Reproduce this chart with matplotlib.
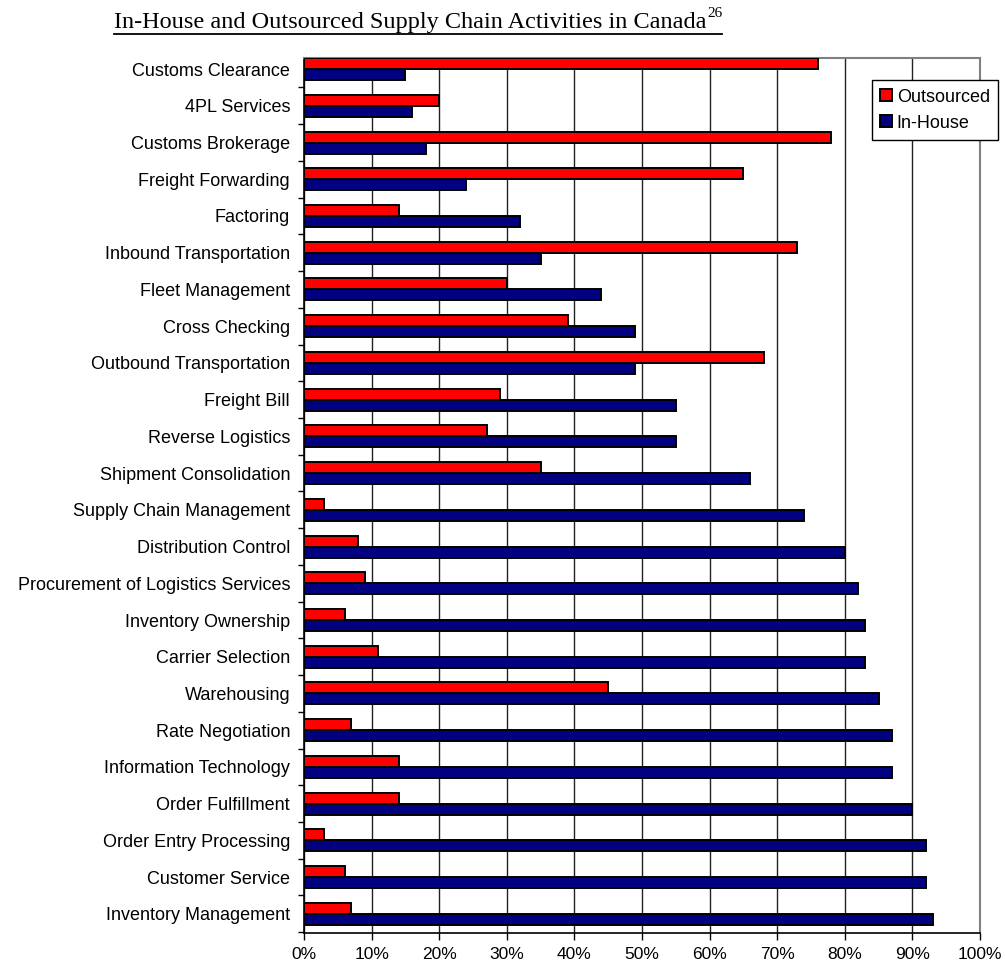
import numpy as np
import matplotlib.pyplot as plt
from matplotlib.ticker import MultipleLocator, PercentFormatter

plt.rcParams["font.family"] = ["Liberation Sans", "DejaVu Sans"]

activities = [
    "Customs Clearance", "4PL Services", "Customs Brokerage", "Freight Forwarding",
    "Factoring", "Inbound Transportation", "Fleet Management", "Cross Checking",
    "Outbound Transportation", "Freight Bill", "Reverse Logistics",
    "Shipment Consolidation", "Supply Chain Management", "Distribution Control",
    "Procurement of Logistics Services", "Inventory Ownership", "Carrier Selection",
    "Warehousing", "Rate Negotiation", "Information Technology", "Order Fulfillment",
    "Order Entry Processing", "Customer Service", "Inventory Management",
]
outsourced = [76, 20, 78, 65, 14, 73, 30, 39, 68, 29, 27, 35,
              3, 8, 9, 6, 11, 45, 7, 14, 14, 3, 6, 7]
in_house = [15, 16, 18, 24, 32, 35, 44, 49, 49, 55, 55, 66,
            74, 80, 82, 83, 83, 85, 87, 87, 90, 92, 92, 93]

fig = plt.figure(figsize=(10.05, 9.69), dpi=100)
ax = fig.add_axes([0.3025, 0.0372, 0.6726, 0.9029])

y = np.arange(len(activities))
h = 0.3
ax.barh(y - h / 2, outsourced, height=h, color="#ff0000", edgecolor="black",
        linewidth=1.4, label="Outsourced", zorder=3)
ax.barh(y + h / 2, in_house, height=h, color="#000080", edgecolor="black",
        linewidth=1.4, label="In-House", zorder=3)

ax.set_xlim(0, 100)
ax.set_ylim(len(activities) - 1 + 0.52, -0.3)
ax.xaxis.set_major_locator(MultipleLocator(10))
ax.xaxis.set_major_formatter(PercentFormatter(decimals=0))
ax.set_yticks(y)
ax.set_yticklabels(activities, fontsize=13)
ax.set_yticks(np.arange(len(activities)) + 0.5, minor=True)
ax.tick_params(axis="y", which="major", length=0, pad=10)
ax.tick_params(axis="y", which="minor", length=4, width=1, direction="out")
ax.tick_params(axis="x", length=5, width=1, direction="out", labelsize=12.5, pad=5)

ax.grid(axis="x", color="#222222", linewidth=1, zorder=0)
ax.spines["top"].set_color("#808080")
ax.spines["right"].set_color("#808080")
ax.spines["top"].set_linewidth(1.5)
ax.spines["right"].set_linewidth(1.5)
ax.spines["left"].set_linewidth(1.2)
ax.spines["bottom"].set_linewidth(1.2)

leg = ax.legend(loc="upper right", bbox_to_anchor=(0.993, 0.917),
                bbox_transform=fig.transFigure, fontsize=13, frameon=True,
                fancybox=False, edgecolor="black", framealpha=1,
                handlelength=0.65, handleheight=0.65, handletextpad=0.25,
                borderpad=0.45, labelspacing=0.5, borderaxespad=0)
leg.get_frame().set_linewidth(1)

# underlined title with superscript
title = fig.text(0.113, 0.977, "In-House and Outsourced Supply Chain Activities in Canada",
                 family="Liberation Serif", fontsize=17.5, ha="left", va="center")
fig.canvas.draw()
r = fig.canvas.get_renderer()
bb = title.get_window_extent(r).transformed(fig.transFigure.inverted())
sup = fig.text(bb.x1 + 0.001, 0.986, "26", family="Liberation Serif", fontsize=11,
               ha="left", va="center")
bb2 = sup.get_window_extent(r).transformed(fig.transFigure.inverted())
fig.add_artist(plt.Line2D([bb.x0, bb2.x1], [bb.y0 - 0.001, bb.y0 - 0.001],
                          transform=fig.transFigure, color="black", linewidth=1.3))

fig.savefig("out.png", dpi=100)
